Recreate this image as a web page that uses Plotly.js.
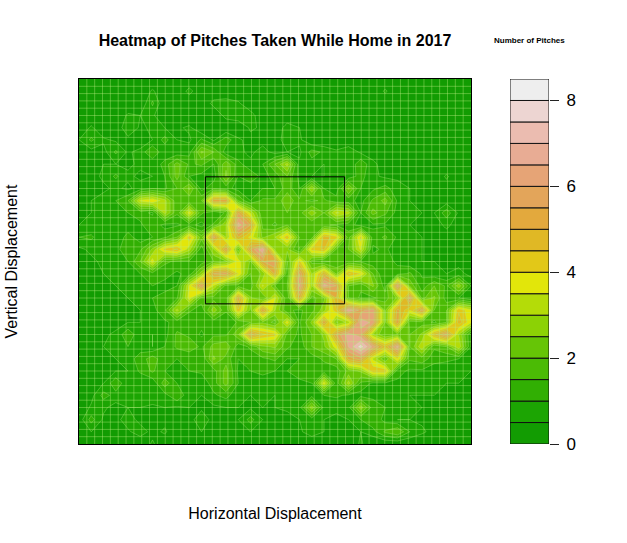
<!DOCTYPE html>
<html>
<head>
<meta charset="utf-8">
<script src="https://cdn.plot.ly/plotly-3.0.1.min.js"></script>
<style>html,body{margin:0;padding:0;background:#fff}</style>
</head>
<body>
<div id="chart" style="width:627px;height:543px"></div>
<script>
// pitch counts, top row first, 33 columns per row
var z00 = [0,0,0,0,0,0,0,0,0,0,0,0,0,0,0,0,0,0,0,0,0,0,0,0,0,0,0,0,0,0,0,0,0];
var z01 = [0,0,0,0,0,0,.6,0,0,.7,0,0,0,0,0,0,0,0,0,0,0,0,0,0,0,.6,0,0,0,0,0,0,0];
var z02 = [0,0,0,0,0,0,1.1,0,0,0,0,.7,.8,.6,0,0,0,0,0,0,0,0,0,0,0,0,0,0,0,0,0,0,0];
var z03 = [0,0,0,0,.6,.5,.6,0,0,0,0,0,.7,.9,.8,0,0,0,0,0,0,0,0,0,0,0,0,0,0,0,0,0,0];
var z04 = [0,.6,0,0,1,.4,.6,.5,.4,.6,0,0,0,0,.6,.4,0,.8,.5,0,0,0,0,0,0,0,0,0,0,0,0,0,0];
var z05 = [.5,1.1,.6,.4,.3,0,.5,1.2,.5,.4,1.1,.4,1.3,.6,.3,.3,0,1,.6,0,0,0,0,0,0,0,0,0,0,0,0,0,0];
var z06 = [0,.3,.3,1.1,.4,.7,1.5,.6,.6,.8,2.6,2,.7,.6,.4,.7,.3,.5,.4,1.2,.9,.6,.9,.4,.3,0,0,0,0,0,0,0,0];
var z07 = [0,.3,.5,.5,.4,.6,.6,1.2,2.2,1.4,1.6,1,2.4,1.2,.6,1,2,3.2,.6,.8,.5,.6,.5,1.4,.6,.3,0,0,0,0,0,0,0];
var z08 = [0,.3,.6,1.1,.6,.4,.5,1,2.2,1,.8,.7,2.6,1,1.4,.8,1.2,2,.8,.5,.5,.6,.7,1.2,.6,.4,.4,.5,0,0,.6,0,0];
var z09 = [0,.3,.4,.6,.4,.7,1,.9,1.5,2.6,.8,1.4,1.2,.8,.6,1,1,1.8,1,3,1,.7,2.6,1,.9,1.2,.7,.5,.3,.3,.2,0,0];
var z10 = [.3,.5,.7,1,1.5,3.6,4,3.2,1.6,1.6,2,5.4,5.4,2,1,1.6,1.6,2.4,1.6,1.4,1.6,1.2,1.2,.8,1.6,2.2,.9,.5,.3,0,.2,0,0];
var z11 = [.3,.5,.7,.8,1,1.2,.9,3.2,1.6,3.8,1.6,1,1.6,5.5,3.4,1.6,1.8,2,1.8,2.8,2,3.6,3.2,1,2.2,1.6,.8,.6,.5,.5,1.3,.4,0];
var z12 = [.5,.6,.7,1,.7,.9,1.4,.8,.9,1.2,.8,1.6,3,6.8,5.5,1.8,1.4,2,1.6,1.6,1.6,1.4,1.2,.8,.9,.9,.7,.5,.4,.3,.6,.3,0];
var z13 = [1,1.1,.6,.6,1.2,.7,1,1.4,2,4.4,2.2,5.8,3,5,3.8,2.4,3,4.4,2,1.8,4.8,4.2,1.8,4.2,1.2,1.6,.9,.6,.5,.4,.3,.3,.2];
var z14 = [.4,.6,.7,.9,1.2,1.4,2.6,4.2,4.6,3.2,1.2,3,5.6,2.2,5.6,7,2.8,2.6,1.4,4.2,4.6,2,2,3.6,.9,1.1,.7,.6,.5,.3,.3,.2,.2];
var z15 = [.2,.4,.6,.7,1,2,3.8,1.6,1.4,1.4,1.2,2,2.4,3.8,2.4,5.5,5.8,2,4.2,1.8,1.4,1.6,1.6,1.4,1.2,1.2,.9,.6,.5,.5,.3,.3,.2];
var z16 = [.2,.4,.5,.6,.8,1,1.3,1.2,.9,1.2,2.8,5.6,5.8,4,2,2.6,5.2,1.6,6,3,5,2.4,4.6,4,2,1,1.2,1.6,.9,.6,.5,.7,.3];
var z17 = [0,.3,.4,.5,.6,.8,1,.8,1,3.6,6,3.4,1.8,1.8,1.6,3.6,2,2,6.6,3,6.8,6,2,1.6,2.6,1.2,6.4,2.4,1.2,2,1.4,2.8,1];
var z18 = [0,.3,.3,.4,.5,.6,1,1.2,1.4,3.8,1.8,1.8,1.6,5.4,2.6,2,3.6,1.6,5.2,1.8,2.4,5,2,1.4,1.4,1.8,2.6,6.2,1.8,2.6,1.2,1,.6];
var z19 = [0,.2,.3,.3,.4,.5,.8,1.4,3.2,1.6,1.2,2.8,1.6,4.4,2.4,5.4,3,1.6,1.4,1.8,2.8,4.4,7,5.8,6.4,2.4,5.2,4,5.8,2,2,4.4,3.6];
var z20 = [0,.2,.3,.3,.5,.5,.6,.9,1.2,1,1.2,1.2,1,1.6,2,2.4,1.8,3.8,1.4,2.6,5.4,2.4,3.2,6.8,6.4,2.4,5.4,1.8,1.8,1.4,2,4.8,3.6];
var z21 = [0,.3,.4,.6,1.4,.6,.5,.8,1.6,1.4,.9,1.4,1.4,2.4,5.8,4.6,4.2,1.8,1.4,2,2.6,5.6,6.8,6.2,3,2,2.4,2,2.6,4.8,6.2,3,1];
var z22 = [0,.3,.5,.8,1,.8,.5,1,1.6,1.8,1.4,2.2,2.4,1.2,1.6,2.4,2.6,1.6,1.2,2,2.4,3.8,6.6,7.8,6.4,4.6,6.8,2,3.4,1.6,2,3.4,1];
var z23 = [0,.2,.4,.5,.8,1.2,1.8,1.1,1,1.1,1,2.6,1.8,1,1.2,1.4,1.6,1,1,1.2,1.6,2,5.2,5.8,3.4,2,4,1.6,1.8,1.2,1.1,1,.6];
var z24 = [0,.3,.3,.5,.5,1.1,1.6,1,.8,1,1.1,1.3,2.2,.9,1,1.2,1,1,1.2,1.2,1.2,1.2,2.2,2.6,4.4,4.4,1.2,.9,.9,.7,.7,.7,.5];
var z25 = [0,.2,.5,1.4,.6,.5,.6,1.8,1,1,.6,1.3,2.2,1,.8,.6,.8,.8,.9,1,3.8,1.2,3.2,1.4,.9,.9,.9,.7,.6,.6,.5,.5,.3];
var z26 = [0,.3,1.2,.8,.6,.6,.8,.8,1.5,.6,.5,.9,1.2,.6,.5,.6,.5,.8,.9,.8,1,1.1,.9,.8,.9,.7,.6,.5,.5,.5,.4,.4,.2];
var z27 = [0,.6,.6,.3,.5,.5,.4,.5,.4,.5,.4,.4,.5,.5,.4,.5,.5,.6,.8,2.8,.8,.6,.8,2.8,1.2,1,.6,.6,.5,.4,.3,.3,.2];
var z28 = [.2,1.2,.4,.3,.8,.3,.3,.3,.3,.3,.8,.3,.3,.5,1.2,.5,.3,.3,.5,.7,.5,.4,.5,1,1.4,.8,.5,.5,.4,.4,.3,.2,0];
var z29 = [0,.5,.4,0,.4,.8,.3,.6,0,0,.5,.3,.5,.3,.5,.4,0,.4,.4,.8,.5,.4,.3,.5,.8,1.6,2,1,.6,.3,.3,0,0];
var z30 = [0,0,0,0,0,0,.6,0,0,0,0,0,0,0,0,0,0,0,0,0,0,0,0,.6,0,0,0,0,0,0,0,0,0];

var zTopDown = [z00,z01,z02,z03,z04,z05,z06,z07,z08,z09,z10,z11,z12,z13,z14,z15,z16,z17,z18,z19,z20,z21,z22,z23,z24,z25,z26,z27,z28,z29,z30];

var levelBase = [0,.5,1,1.5,2,2.5,3,3.5,4,4.5,5,5.5,6,6.5,7,7.5,8];
var levelColors = ['#129c02','#1ca503','#31af03','#4bbb05','#66c506','#8cd205','#b4dc08','#e2e60a',
    '#e2c818','#e0b825','#e3a93d','#e3a55a','#e6a476','#e8ac94','#ebbcb0','#edd5d2','#eeeeee'];
var legendTicks = [0,2,4,6,8];

var strikeX = [-0.71, 0.71];
var strikeY = [1.92, 3.66];

// plot area and legend edges in page pixels
var W = 627, H = 543;
var left = 79, right = 471, top_ = 79, bottom = 444;

var hDisp = zTopDown[0].map(function(v, i) { return -2 + i * 0.125; });
var vDisp = zTopDown.map(function(v, j) { return j * 5 / 30; });

var scale = [];
levelColors.forEach(function(c, i) {
    scale.push([i / 17, c]);
    scale.push([(i + 1) / 17, c]);
});

var heat = {
    type: 'contour',
    x: hDisp,
    y: vDisp,
    z: zTopDown.slice().reverse(),
    zmin: 0,
    zmax: 8.5,
    autocontour: false,
    contours: {start: 0.5, end: 8, size: 0.5, coloring: 'fill', showlines: true},
    line: {color: 'rgba(170,235,120,0.55)', width: 0.7, smoothing: 0},
    colorscale: scale,
    showscale: false,
    hoverinfo: 'skip',
    xaxis: 'x',
    yaxis: 'y'
};

var legendBars = {
    type: 'bar',
    x: levelBase.map(function() { return 0; }),
    y: levelBase.map(function() { return 0.5; }),
    base: levelBase,
    width: 1,
    marker: {color: levelColors, line: {color: '#111', width: 1}},
    hoverinfo: 'skip',
    showlegend: false,
    xaxis: 'x2',
    yaxis: 'y2'
};

// the thin pale bin lines the image device left over the fill
var shapes = [];
for (var i = 1; i < 50; i++) {
    var gx = -2 + i * 0.08, gy = i * 0.1;
    shapes.push({type: 'line', xref: 'x', yref: 'y', x0: gx, x1: gx, y0: 0, y1: 5, layer: 'above',
        line: {color: 'rgba(190,240,130,0.4)', width: 1}});
    shapes.push({type: 'line', xref: 'x', yref: 'y', x0: -2, x1: 2, y0: gy, y1: gy, layer: 'above',
        line: {color: 'rgba(190,240,130,0.4)', width: 1}});
}
shapes.push({type: 'rect', xref: 'x', yref: 'y', x0: strikeX[0], x1: strikeX[1], y0: strikeY[0], y1: strikeY[1],
    layer: 'above', line: {color: 'black', width: 1}});

var yDomain = [(H - bottom) / H, (H - top_) / H];

var layout = {
    width: W,
    height: H,
    margin: {l: 0, r: 0, t: 0, b: 0},
    paper_bgcolor: 'white',
    plot_bgcolor: 'white',
    showlegend: false,
    barmode: 'overlay',
    font: {family: '"Liberation Sans", Arial, sans-serif', color: 'black'},
    title: {
        text: '<b>Heatmap of Pitches Taken While Home in 2017</b>',
        font: {size: 16},
        x: 275 / W, xanchor: 'center',
        y: 1 - 40 / H, yanchor: 'middle'
    },
    xaxis: {
        domain: [left / W, right / W],
        range: [-2, 2],
        showgrid: false, zeroline: false, showticklabels: false, ticks: '',
        showline: true, mirror: true, linecolor: 'black', linewidth: 1,
        title: {text: 'Horizontal Displacement', font: {size: 16}, standoff: 63}
    },
    yaxis: {
        domain: yDomain,
        range: [0, 5],
        showgrid: false, zeroline: false, showticklabels: false, ticks: '',
        showline: true, mirror: true, linecolor: 'black', linewidth: 1,
        title: {text: 'Vertical Displacement', font: {size: 16}, standoff: 56}
    },
    xaxis2: {
        domain: [510 / W, 549 / W],
        range: [-0.5, 0.5],
        anchor: 'y2',
        showgrid: false, zeroline: false, showticklabels: false, ticks: ''
    },
    yaxis2: {
        domain: yDomain,
        range: [0, 8.5],
        anchor: 'x2',
        side: 'right',
        tickmode: 'array',
        tickvals: legendTicks,
        ticktext: legendTicks.map(String),
        ticks: 'outside',
        ticklen: 9,
        tickwidth: 1,
        tickcolor: '#222',
        tickfont: {size: 17},
        ticklabelstandoff: 4,
        showgrid: false, zeroline: false
    },
    annotations: [{
        text: '<b>Number of Pitches</b>',
        xref: 'paper', yref: 'paper',
        x: 529 / W, y: 1 - 40 / H,
        xanchor: 'center', yanchor: 'middle',
        showarrow: false,
        font: {size: 8}
    }],
    shapes: shapes
};

Plotly.newPlot('chart', [heat, legendBars], layout, {displayModeBar: false});
</script>
</body>
</html>
